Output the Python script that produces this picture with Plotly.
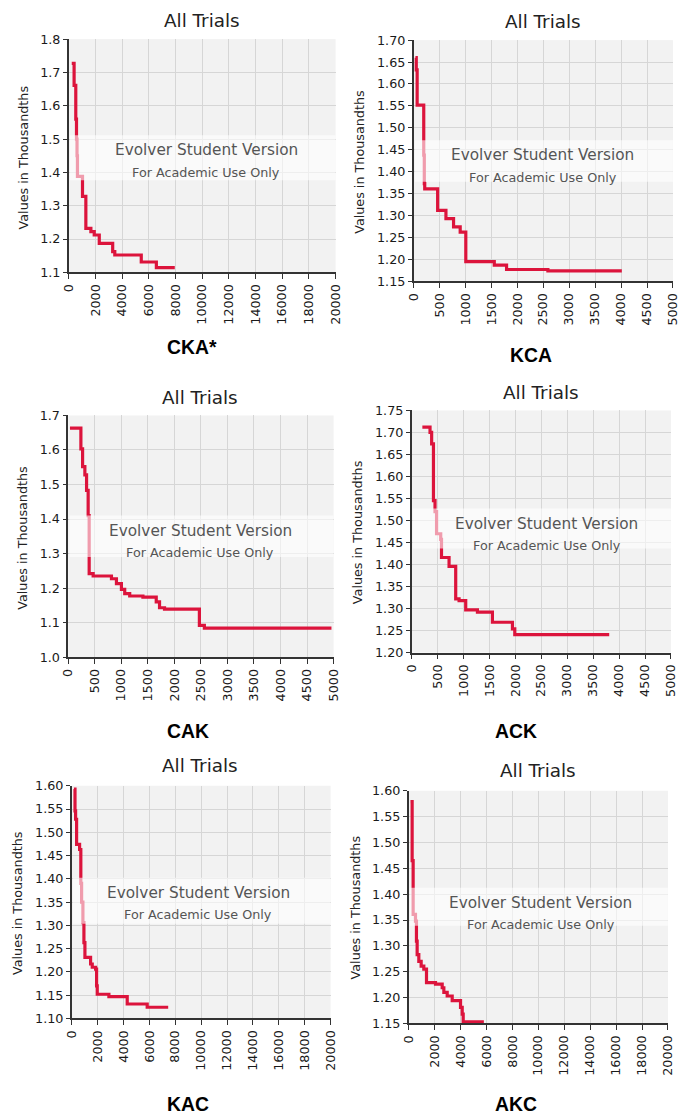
import plotly.graph_objects as go

# The photographed page maps page pixels to picture pixels with a small scale
# and an 8px body margin; geometry below is given in picture pixels.
PIC_W, PIC_H = 678, 1116
OFF = 8
SX, SY = 678 / 694, 1116 / 1132
W, H = 686, 1124
FS = 1.02  # font compensation for the scale

# ---------------- data ----------------
names = ["CKA*", "KCA", "CAK", "ACK", "KAC", "AKC"]

cka_x = [224, 400, 526, 580, 620, 651, 1030, 1281, 1658, 1909, 2287, 3293, 3450, 5434, 6566, 7947]
cka_y = [1.727, 1.661, 1.56, 1.50, 1.45, 1.388, 1.328, 1.232, 1.222, 1.212, 1.187, 1.162, 1.152, 1.131, 1.114, 1.114]

kca_x = [34, 50, 67, 194, 205, 213, 462, 622, 769, 897, 1005, 1554, 1791, 2588, 4013]
kca_y = [1.660, 1.632, 1.552, 1.438, 1.373, 1.361, 1.312, 1.293, 1.274, 1.262, 1.195, 1.187, 1.177, 1.174, 1.174]

cak_x = [32, 238, 270, 313, 345, 375, 394, 469, 814, 908, 1002, 1064, 1158, 1407, 1658, 1720, 1814, 2471, 2565, 4960]
cak_y = [1.663, 1.603, 1.552, 1.528, 1.483, 1.41, 1.242, 1.235, 1.227, 1.213, 1.196, 1.184, 1.177, 1.174, 1.16, 1.143, 1.139, 1.092, 1.084, 1.084]

ack_x = [206, 354, 385, 420, 450, 480, 560, 575, 721, 849, 914, 1042, 1268, 1557, 1943, 1988, 3809]
ack_y = [1.712, 1.70, 1.674, 1.545, 1.52, 1.47, 1.457, 1.416, 1.396, 1.322, 1.318, 1.297, 1.292, 1.269, 1.254, 1.241, 1.241]

kac_x = [167, 250, 296, 373, 605, 700, 760, 862, 940, 1017, 1454, 1583, 1840, 1917, 1969, 2870, 4286, 5830, 7452]
kac_y = [1.593, 1.546, 1.528, 1.474, 1.463, 1.39, 1.35, 1.306, 1.263, 1.231, 1.217, 1.21, 1.206, 1.17, 1.152, 1.147, 1.131, 1.124, 1.124]

akc_x = [139, 268, 345, 525, 600, 654, 782, 963, 1168, 1375, 2070, 2585, 2713, 2971, 3357, 4000, 4129, 4206, 5800]
akc_y = [1.579, 1.465, 1.361, 1.348, 1.309, 1.283, 1.27, 1.261, 1.255, 1.229, 1.226, 1.219, 1.21, 1.203, 1.194, 1.181, 1.168, 1.153, 1.153]

series_x = [cka_x, kca_x, cak_x, ack_x, kac_x, akc_x]
series_y = [cka_y, kca_y, cak_y, ack_y, kac_y, akc_y]

y_ranges = [[1.1, 1.8], [1.15, 1.70], [1.0, 1.7], [1.20, 1.75], [1.10, 1.60], [1.15, 1.60]]
y_dticks = [0.1, 0.05, 0.1, 0.05, 0.05, 0.05]
y_formats = [".1f", ".2f", ".1f", ".2f", ".2f", ".2f"]
x_ranges = [[0, 20000], [0, 5000], [0, 5000], [0, 5000], [0, 20000], [0, 20000]]
x_dticks = [2000, 500, 500, 500, 2000, 2000]

# ---------------- layout geometry (picture pixels) ----------------
areas = [(68.5, 335, 39, 272), (413, 672, 40, 281), (68, 333, 415, 656.5),
         (411, 670, 410, 652), (71.5, 330, 785, 1017.5), (408, 667, 790, 1022.5)]
title_pos = [(202, 20), (542, 21), (200, 397), (540, 392), (200, 765), (537, 770)]
name_pos = [(192, 347), (530, 355), (188, 730), (515, 730), (188, 1103), (515, 1103)]
ytitle_pos = [(23, 157), (359, 162), (22, 537), (357, 532), (18, 902), (355, 907)]
band_pos = [(135, 180, 206), (140, 181.5, 542), (515, 556.5, 200),
            (508, 548, 546), (877, 923, 198), (887, 925, 540)]

def px(x):
    return min(max((x / SX - OFF) / W, 0), 1)

def py(y):
    return min(max(1 - (y / SY - OFF) / H, 0), 1)

FONT = "DejaVu Sans"
LINE = "#dc143c"
TICK = 12.5 * FS

fig = go.Figure()
layout = dict(
    width=W, height=H, margin=dict(l=0, r=0, t=0, b=0, pad=0),
    paper_bgcolor="white", plot_bgcolor="#f2f2f2", showlegend=False,
    font=dict(family=FONT, size=TICK, color="#1a1a1a"),
)
shapes, annotations = [], []

for i in range(6):
    k = "" if i == 0 else str(i + 1)
    l, r, t, b = areas[i]
    fig.add_trace(go.Scatter(
        x=series_x[i], y=series_y[i], mode="lines", line_shape="hv",
        line=dict(color=LINE, width=3.2), xaxis="x" + k, yaxis="y" + k,
        hoverinfo="skip"))
    layout["xaxis" + k] = dict(
        domain=[px(l), px(r)], anchor="y" + k, range=x_ranges[i],
        tickmode="linear", tick0=0, dtick=x_dticks[i], tickformat="d",
        tickangle=-90, ticks="outside", ticklen=5, tickcolor="#333",
        showline=True, linecolor="#333", linewidth=1.5,
        showgrid=True, gridcolor="#d6d6d6", gridwidth=1, zeroline=False,
        tickfont=dict(family=FONT, size=TICK, color="#1a1a1a"), fixedrange=True)
    layout["yaxis" + k] = dict(
        domain=[py(b), py(t)], anchor="x" + k, range=y_ranges[i],
        tickmode="linear", tick0=y_ranges[i][0], dtick=y_dticks[i],
        tickformat=y_formats[i], ticks="outside", ticklen=4, tickcolor="#333",
        showline=True, linecolor="#333", linewidth=1.5,
        showgrid=True, gridcolor="#d6d6d6", gridwidth=1, zeroline=False,
        tickfont=dict(family=FONT, size=TICK, color="#1a1a1a"), fixedrange=True)

    bt, bb, cx = band_pos[i]
    shapes.append(dict(type="rect", xref="paper", yref="paper",
                       x0=px(l + 1), x1=px(r), y0=py(bb), y1=py(bt),
                       fillcolor="rgba(255,255,255,0.58)", line=dict(width=0),
                       layer="above"))
    annotations.append(dict(text="Evolver Student Version", xref="paper", yref="paper",
                            x=px(cx), y=py(bt + 15), xanchor="center", yanchor="middle",
                            showarrow=False,
                            font=dict(family=FONT, size=15 * FS, color="#555555")))
    annotations.append(dict(text="For Academic Use Only", xref="paper", yref="paper",
                            x=px(cx), y=py(bt + 37), xanchor="center", yanchor="middle",
                            showarrow=False,
                            font=dict(family=FONT, size=12.5 * FS, color="#555555")))
    annotations.append(dict(text="All Trials", xref="paper", yref="paper",
                            x=px(title_pos[i][0]), y=py(title_pos[i][1]),
                            xanchor="center", yanchor="middle", showarrow=False,
                            font=dict(family=FONT, size=18 * FS, color="#222222")))
    annotations.append(dict(text="<b>%s</b>" % names[i], xref="paper", yref="paper",
                            x=px(name_pos[i][0]), y=py(name_pos[i][1]),
                            xanchor="center", yanchor="middle", showarrow=False,
                            font=dict(family="Liberation Sans", size=19 * FS, color="#000000")))
    annotations.append(dict(text="Values in Thousandths", xref="paper", yref="paper",
                            x=px(ytitle_pos[i][0]), y=py(ytitle_pos[i][1]),
                            xanchor="center", yanchor="middle", textangle=-90,
                            showarrow=False,
                            font=dict(family=FONT, size=12.5 * FS, color="#222222")))

layout["shapes"] = shapes
layout["annotations"] = annotations
fig.update_layout(**layout)
fig.write_html("out.html")
